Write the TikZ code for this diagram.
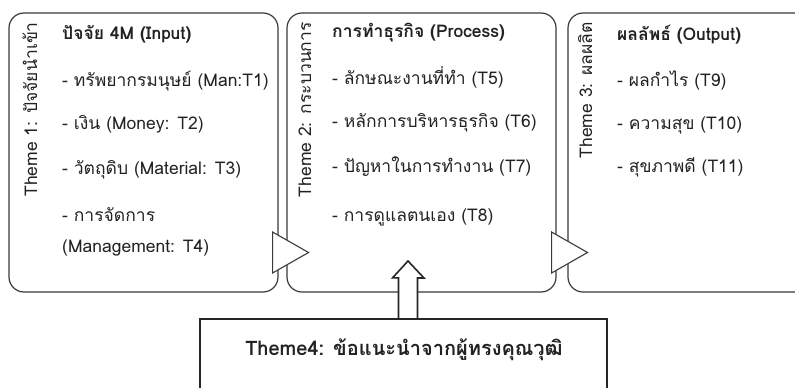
\documentclass[tikz,border=0pt]{standalone}
\usepackage{fontspec}
\setmainfont[Script=Thai]{Loma}
\usetikzlibrary{shapes.geometric,calc}
\definecolor{edge}{HTML}{3A3A3A}
\definecolor{ink}{HTML}{222222}
\begin{document}
\begin{tikzpicture}[x=1pt,y=-1pt,
  box/.style={draw=edge, line width=1.2pt, rounded corners=15pt, inner sep=0pt},
  title/.style={anchor=west, inner sep=0pt, text=ink, font=\fontsize{17.5}{19}\selectfont\bfseries, text height=12pt, text depth=4pt},
  item/.style={anchor=west, inner sep=0pt, text=ink, font=\fontsize{17.5}{19}\selectfont, text height=12pt, text depth=4pt},
  theme/.style={anchor=east, rotate=90, inner sep=0pt, text=ink, font=\fontsize{17.5}{19}\selectfont, text height=12pt, text depth=4pt},
  flow/.style={isosceles triangle, isosceles triangle stretches, draw=edge, line width=1.1pt, fill=white, inner sep=0pt, minimum height=36pt, minimum width=41pt, anchor=west},
  expert/.style={draw=black!85, line width=2.2pt, fill=white, inner sep=0pt, minimum width=407pt, minimum height=90pt}
]
\useasboundingbox (0,0) rectangle (795,388);
\clip (0,0) rectangle (795,388);
\fill[white] (0,0) rectangle (795,388);

% boxes
\node[box, minimum width=269pt, minimum height=279pt] (b1) at (143.5,152.5) {};
\node[box, minimum width=269pt, minimum height=279pt] (b2) at (421.5,152.5) {};
\node[box, minimum width=260pt, minimum height=279pt] (b3) at (698,152.5) {};

% theme labels
\node[theme] (t1) at (33,22) {Theme 1: ปัจจัยนำเข้า};
\node[theme] (t2) at (307,22) {Theme 2: กระบวนการ};
\node[theme] (t3) at (588,22) {Theme 3: ผลผลิต};

% box 1 text
\node[title] (h1) at (62,35) {ปัจจัย 4M (Input)};
\node[item] (i1) at (62,82) {- ทรัพยากรมนุษย์ (Man:T1)};
\node[item] (i2) at (62,125) {- เงิน (Money: T2)};
\node[item] (i3) at (62,170) {- วัตถุดิบ (Material: T3)};
\node[item] (i4) at (62,217) {- การจัดการ};
\node[item] (i4b) at (62,248) {(Management: T4)};

% box 2 text
\node[title] (h2) at (332,33) {การทำธุรกิจ (Process)};
\node[item] (i5) at (332,80) {- ลักษณะงานที่ทำ (T5)};
\node[item] (i6) at (332,123) {- หลักการบริหารธุรกิจ (T6)};
\node[item] (i7) at (332,168) {- ปัญหาในการทำงาน (T7)};
\node[item] (i8) at (332,217) {- การดูแลตนเอง (T8)};

% box 3 text
\node[title] (h3) at (617,36) {ผลลัพธ์ (Output)};
\node[item] (i9) at (617,82) {- ผลกำไร (T9)};
\node[item] (i10) at (617,125) {- ความสุข (T10)};
\node[item] (i11) at (617,168) {- สุขภาพดี (T11)};

% flow triangles between boxes
\node[flow] (f1) at (272,252.5) {};
\node[flow] (f2) at (551,252.5) {};

% expert box
\node[expert] (e) at (403.5,364) {};
\node[text=ink, font=\fontsize{20}{22}\selectfont\bfseries, inner sep=0pt] (et) at (404,350) {Theme4: ข้อแนะนำจากผู้ทรงคุณวุฒิ};

% up arrow from expert box into process box
\coordinate (a0) at ($(e.north)+(4.5,0)$);
\draw[draw=black!85, line width=1.6pt, fill=white, line join=miter]
  ($(a0)+(-9.5,0)$) -- ++(0,-40) -- ++(-6,0) -- (408,261) -- (424,278) -- ++(-6.5,0) -- ($(a0)+(9.5,0)$);
\end{tikzpicture}
\end{document}
